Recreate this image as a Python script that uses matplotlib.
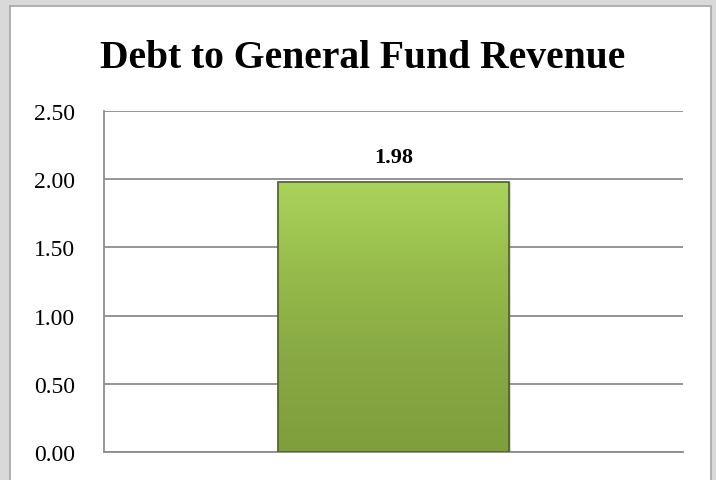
import numpy as np
import matplotlib.pyplot as plt
import matplotlib.patches as patches
from matplotlib.colors import LinearSegmentedColormap

# chart data
categories = ['']
values = [1.98]
value_labels = ['1.98']
y_ticks = [0.0, 0.5, 1.0, 1.5, 2.0, 2.5]
title = 'Debt to General Fund Revenue'

plt.rcParams['font.family'] = ['Liberation Serif', 'DejaVu Serif']

fig = plt.figure(figsize=(7.16, 4.81), dpi=100, facecolor='#d9d9d9')

# white chart area with thin gray frame
frame = patches.Rectangle((10 / 716, -0.01), 701 / 716, (481 - 7) / 481 + 0.01,
                          transform=fig.transFigure, facecolor='white',
                          edgecolor='#a6a6a6', linewidth=1.2, zorder=-5)
fig.patches.append(frame)

ax = fig.add_axes([104 / 716, (481 - 453) / 481, 579 / 716, (453 - 112) / 481])
ax.set_facecolor('none')

bars = ax.bar(categories, values, width=0.4, color='#97bf4c',
              edgecolor='#4f6228', linewidth=1.0, zorder=3)

# vertical gradient fill clipped to each bar
cmap = LinearSegmentedColormap.from_list('grn', ['#7f9e3d', '#87a843', '#97bb4b', '#aad35b'])
for b in bars:
    x0, y0 = b.get_x(), b.get_y()
    w, h = b.get_width(), b.get_height()
    grad = np.linspace(0, 1, 256).reshape(-1, 1)
    im = ax.imshow(grad, cmap=cmap, origin='lower', aspect='auto',
                   extent=(x0, x0 + w, y0, y0 + h), zorder=3.5)
    im.set_clip_path(b)
    edge = patches.Rectangle((x0, y0), w, h, facecolor='none',
                             edgecolor='#4f6228', linewidth=1.2, zorder=4)
    ax.add_patch(edge)

ax.set_xlim(-0.5, 0.5)
ax.set_ylim(0, 2.5)
ax.set_yticks(y_ticks)
ax.set_yticklabels([f'{v:.2f}' for v in y_ticks], fontsize=17)
ax.tick_params(axis='y', length=0, pad=21)
ax.tick_params(axis='x', length=0, labelbottom=False)
ax.yaxis.grid(True, color='#8c8c8c', linewidth=1.3, zorder=0)
ax.set_axisbelow(True)
for s in ['top', 'right']:
    ax.spines[s].set_visible(False)
ax.spines['left'].set_color('#8c8c8c')
ax.spines['bottom'].set_color('#8c8c8c')
ax.spines['left'].set_linewidth(1.3)
ax.spines['bottom'].set_linewidth(1.3)

for b, lab in zip(bars, value_labels):
    ax.annotate(lab, (b.get_x() + b.get_width() / 2, b.get_height()),
                xytext=(0, 14), textcoords='offset points', ha='center',
                va='baseline', fontsize=16, fontweight='bold')

fig.text(363 / 716, 1 - 68 / 481, title, ha='center', va='baseline',
         fontsize=28.5, fontweight='bold')

fig.savefig('out.png', dpi=100, facecolor=fig.get_facecolor())
